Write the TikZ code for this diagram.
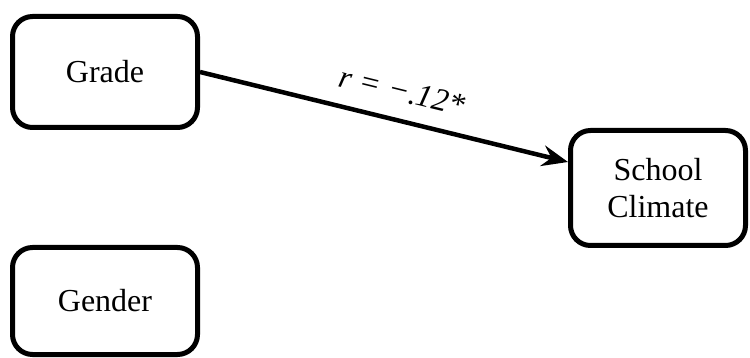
\documentclass[tikz,border=0pt]{standalone}
\usepackage{fontspec}
\setmainfont{Liberation Serif}
\usetikzlibrary{arrows.meta, positioning}

\begin{document}
\begin{tikzpicture}[
  x=1pt, y=1pt,
  varbox/.style={rectangle, rounded corners=20pt, draw=black, line width=5pt, fill=white, align=center, font=\fontsize{32}{37}\selectfont},
  arrow/.style={line width=4.5pt, -{Stealth[length=26pt, width=21pt, inset=9pt]}}
]
\useasboundingbox (0,0) rectangle (750,-358);

\node[varbox, minimum width=185pt, minimum height=111pt] (grade) at (105,-72) {Grade};
\node[varbox, minimum width=185pt, minimum height=107pt] (gender) at (105,-301) {Gender};
\node[varbox, minimum width=175pt, minimum height=115pt] (climate) at (658,-188) {School\\Climate};

\draw[arrow] (grade.east) -- node[pos=0.53, sloped, above=13pt, font=\fontsize{32}{37}\selectfont\itshape] {r = −.12*} ([yshift=26pt]climate.west);
\end{tikzpicture}
\end{document}
